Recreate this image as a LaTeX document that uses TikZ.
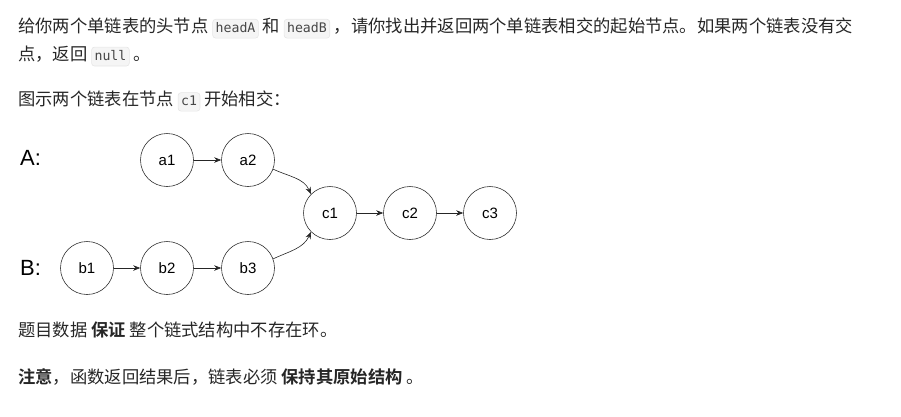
\documentclass[tikz,border=0pt]{standalone}
\usepackage{fontspec}
\usetikzlibrary{arrows.meta}
\setmainfont{Liberation Sans}
\newfontfamily\cjk{Noto Sans CJK SC}[BoldFont={Noto Sans CJK SC Bold}]
\newfontfamily\codefont{DejaVu Sans Mono}
\definecolor{txt}{HTML}{262626}
\definecolor{codebg}{HTML}{F5F5F5}
\definecolor{codebd}{HTML}{E6E6E6}
\newcommand{\cbox}[1]{\tikz[baseline=(cb.base)]\node[fill=codebg,draw=codebd,line width=0.6pt,rounded corners=3pt,inner xsep=3pt,inner ysep=3pt,font=\codefont\fontsize{13.2}{15}\selectfont,text=txt!85] (cb) {\vphantom{Ag}#1};}
\begin{document}
\begin{tikzpicture}[x=1pt,y=-1pt,
  lnode/.style={circle,draw=black!80,line width=0.6pt,minimum size=53pt,inner sep=0pt,font=\fontsize{15}{18}\selectfont},
  txtline/.style={anchor=west,inner sep=0pt,text=txt,font=\cjk\fontsize{17.3}{20}\selectfont},
  arr/.style={-{Stealth[length=7pt,width=5.5pt]},line width=0.6pt,draw=black!85}]
\useasboundingbox (0,0) rectangle (901,416);
\node[txtline] (t1) at (18,28) {给你两个单链表的头节点 \cbox{headA} 和 \cbox{headB} ，请你找出并返回两个单链表相交的起始节点。如果两个链表没有交};
\node[txtline] (t2) at (18,56) {点，返回 \cbox{null} 。};
\node[txtline] (t3) at (18,101) {图示两个链表在节点 \cbox{c1} 开始相交：};
\node[anchor=west,inner sep=0pt,font=\fontsize{22}{24}\selectfont] (A) at (20,158) {A:};
\node[anchor=west,inner sep=0pt,font=\fontsize{22}{24}\selectfont] (B) at (20,268) {B:};
\node[lnode] (a1) at (167,160) {a1};
\node[lnode] (a2) at (248,160) {a2};
\node[lnode] (c1) at (330,213) {c1};
\node[lnode] (c2) at (410,213) {c2};
\node[lnode] (c3) at (490,213) {c3};
\node[lnode] (b1) at (87,268) {b1};
\node[lnode] (b2) at (167,268) {b2};
\node[lnode] (b3) at (248,268) {b3};
\draw[arr] (a1) -- (a2);
\draw[arr] (b1) -- (b2);
\draw[arr] (b2) -- (b3);
\draw[arr] (c1) -- (c2);
\draw[arr] (c2) -- (c3);
\draw[arr] (a2.-20) to[out=-25,in=115] (c1.135);
\draw[arr] (b3.20) to[out=25,in=-115] (c1.-135);
\node[txtline] (t4) at (18,330) {题目数据 \textbf{保证} 整个链式结构中不存在环。};
\node[txtline] (t5) at (18,377) {\textbf{注意}，函数返回结果后，链表必须 \textbf{保持其原始结构} 。};
\end{tikzpicture}
\end{document}
